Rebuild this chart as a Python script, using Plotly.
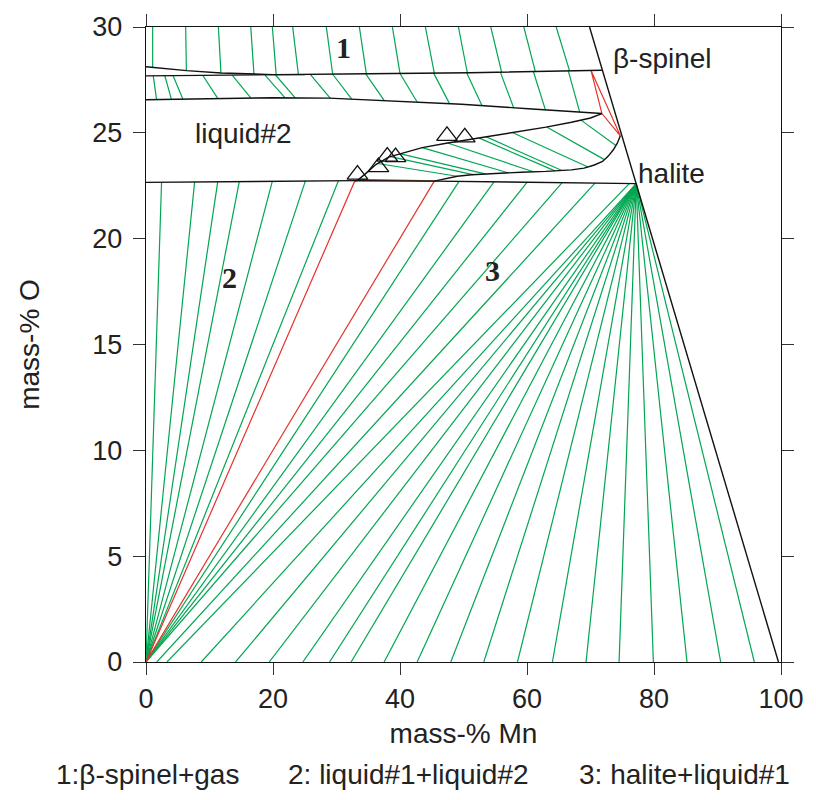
import numpy as np
import plotly.graph_objects as go

GREEN = "#00a651"
RED = "#e5322b"
BLACK = "#111111"
SANS = "Liberation Sans, Arial, sans-serif"

# ---- phase boundaries (mass-% Mn, mass-% O) ----
# upper edge of the beta-spinel+gas tie-line field
U_x = [0, 3, 6.4, 11.8, 16, 20, 25]
U_y = [28.12, 28.02, 27.94, 27.83, 27.78, 27.75, 27.75]
# near-horizontal line below it
L_x = [0, 20, 35, 51, 71.8]
L_y = [27.69, 27.73, 27.79, 27.84, 27.96]
# upper limit of the liquid#2 field
D_x = [0, 10, 20, 28.8, 40, 49.7, 60.2, 71.8]
D_y = [26.56, 26.62, 26.66, 26.64, 26.50, 26.35, 26.14, 25.91]
# liquid#2 side of the lens
A_x = [32.9, 33.5, 34.5, 36.2, 38.2, 40, 43.5, 47.5, 51.3, 55, 59.1, 63, 67, 70, 71.8]
A_y = [22.72, 22.80, 23.05, 23.50, 23.85, 24.00, 24.30, 24.52, 24.70, 24.90, 25.10, 25.27, 25.50, 25.70, 25.91]
# other side of the lens
B_x = [45.4, 47.1, 49, 51.3, 55, 59.1, 63, 67, 69, 70.6, 71.9, 72.8, 73.6, 74.2, 74.7]
B_y = [22.72, 22.83, 22.95, 23.02, 23.09, 23.14, 23.18, 23.25, 23.33, 23.48, 23.65, 23.90, 24.20, 24.50, 24.86]
# halite composition line
H_x = [0, 20, 33, 45.4, 60, 77.2]
H_y = [22.66, 22.72, 22.74, 22.72, 22.66, 22.60]
# beta-spinel / halite / liquid#1 outer boundary
S_x = [69.85, 77.2, 99.6]
S_y = [30.0, 22.6, 0.0]

HALITE = (77.2, 22.6)

# ---- three-phase triangles ----
TRI_LOW_x = [0, 32.9, 45.4, 0]
TRI_LOW_y = [0, 22.74, 22.72, 0]
TRI_UP_x = [70.1, 71.8, 74.7, 70.1]
TRI_UP_y = [27.93, 25.91, 24.86, 27.93]

# ---- tie lines ----
# field 1: from the top edge down to the upper boundary
TL1_top = [1.05, 6.25, 11.4, 16.5, 19.9, 23.1, 28.4, 33.6, 38.8, 44.0, 49.2, 54.3, 59.5, 64.6]
TL1_bot = [1.05, 6.36, 11.8, 17.0, 20.5, 24.0, 29.4, 34.7, 40.0, 45.4, 50.6, 56.0, 61.3, 66.7]
# band between the two upper lines
TLB_top = [1.14, 2.97, 4.27, 8.95, 13.6, 18.75, 20.4, 25.9, 29.4, 34.6, 40.0, 45.3, 50.5, 55.8, 61.0, 66.5]
TLB_bot = [1.67, 4.0, 5.8, 11.3, 16.5, 21.9, 23.5, 29.0, 32.4, 37.5, 42.7, 47.8, 52.9, 57.9, 62.9, 68.3]
# lens: liquid#2 side -> other side
TLL_a = [33.5, 36.5, 38.5, 40.1, 43.5, 47.5, 52.4, 53.5, 57.6, 63.1, 68.5]
TLL_b = [45.6, 49.0, 51.5, 53.4, 57.0, 61.0, 64.4, 65.5, 69.6, 72.2, 74.0]
# field 2: liquid#1 at origin -> liquid#2 on the halite line
TL2_top = [2.45, 7.66, 11.3, 14.7, 19.9, 25.1, 30.3]
# field 3: liquid#1 on the Mn axis -> halite line
TL3_bot = [0, 0, 0, 0, 1.7, 3.3]
TL3_top = [49.3, 54.8, 60.0, 65.5, 70.7, 76.1]
# field 3: liquid#1 on the Mn axis -> MnO halite
TLH_bot = [8.7, 14.1, 19.4, 24.7, 28.9, 32.3, 37.5, 42.7, 48.0, 53.2, 58.5,
           64.0, 69.3, 74.5, 79.9, 85.2, 90.5, 95.8]

# ---- experimental points ----
EXP_x = [33.3, 36.6, 38.0, 39.3, 47.4, 50.2]
EXP_y = [23.03, 23.38, 23.88, 23.85, 24.86, 24.79]


def upper_edge(x):
    return max(np.interp(x, U_x, U_y), np.interp(x, L_x, L_y))


def segments(pairs):
    xs, ys = [], []
    for (x0, y0), (x1, y1) in pairs:
        xs += [x0, x1, None]
        ys += [y0, y1, None]
    return xs, ys


green_pairs = []
green_pairs += [((t, 30.0), (b, upper_edge(b))) for t, b in zip(TL1_top, TL1_bot)]
green_pairs += [((t, np.interp(t, L_x, L_y)), (b, np.interp(b, D_x, D_y)))
                for t, b in zip(TLB_top, TLB_bot)]
green_pairs += [((a, np.interp(a, A_x, A_y)), (b, np.interp(b, B_x, B_y)))
                for a, b in zip(TLL_a, TLL_b)]
green_pairs += [((0, 0), (t, np.interp(t, H_x, H_y))) for t in TL2_top]
green_pairs += [((b, 0), (t, np.interp(t, H_x, H_y))) for b, t in zip(TL3_bot, TL3_top)]
green_pairs += [((b, 0), HALITE) for b in TLH_bot]

fig = go.Figure()

gx, gy = segments(green_pairs)
fig.add_trace(go.Scatter(x=gx, y=gy, mode="lines",
                         line=dict(color=GREEN, width=1.2), hoverinfo="skip"))

for tx, ty in [(TRI_LOW_x, TRI_LOW_y), (TRI_UP_x, TRI_UP_y)]:
    fig.add_trace(go.Scatter(x=tx, y=ty, mode="lines",
                             line=dict(color=RED, width=1.2), hoverinfo="skip"))

for cx, cy in [(U_x, U_y), (L_x, L_y), (D_x, D_y), (A_x, A_y), (B_x, B_y),
               (H_x, H_y), (S_x, S_y)]:
    fig.add_trace(go.Scatter(x=cx, y=cy, mode="lines",
                             line=dict(color=BLACK, width=1.4), hoverinfo="skip"))

fig.add_trace(go.Scatter(x=EXP_x, y=EXP_y, mode="markers",
                         marker=dict(symbol="triangle-up-open", size=18,
                                     color=BLACK, line=dict(color=BLACK, width=1.3)),
                         hoverinfo="skip"))

label_font = dict(family=SANS, size=28, color="#222")
legend_font = dict(family=SANS, size=28, color="#222")
num_font = dict(family="Liberation Serif, Times New Roman, serif", size=30, color="#222")

for text, x, y, font in [
    ("<b>1</b>", 31.1, 29.05, num_font),
    ("<b>2</b>", 13.1, 18.15, num_font),
    ("<b>3</b>", 54.5, 18.5, num_font),
    ("β-spinel", 81.4, 28.5, label_font),
    ("liquid#2", 15.3, 24.95, label_font),
    ("halite", 82.7, 23.1, label_font),
]:
    fig.add_annotation(x=x, y=y, text=text, showarrow=False, font=font,
                       xanchor="center", yanchor="middle")

legend_items = [("1:β-spinel+gas", 53), ("2: liquid#1+liquid#2", 287),
                ("3: halite+liquid#1", 580)]
for text, px in legend_items:
    fig.add_annotation(xref="paper", yref="paper", x=(px - 146) / 640, y=-0.177,
                       text=text, showarrow=False, font=legend_font,
                       xanchor="left", yanchor="middle")

axis_common = dict(showline=True, linecolor=BLACK, linewidth=1.4, mirror="ticks",
                   ticks="outside", ticklen=12, tickwidth=1.4, tickcolor="#333",
                   showgrid=False, zeroline=False,
                   tickfont=dict(family=SANS, size=27, color="#222"))

fig.update_xaxes(range=[0, 100], tick0=0, dtick=20,
                 title=dict(text="mass-% Mn", standoff=10,
                            font=dict(family=SANS, size=28, color="#222")),
                 **axis_common)
fig.update_yaxes(range=[0, 30], tick0=0, dtick=5, ticklabelstandoff=5,
                 title=dict(text="mass-% O", standoff=44,
                            font=dict(family=SANS, size=28, color="#222")),
                 **axis_common)

fig.update_layout(width=816, height=800, showlegend=False,
                  margin=dict(l=146, r=30, t=22, b=138),
                  plot_bgcolor="white", paper_bgcolor="white")

fig.write_html("out.html")
